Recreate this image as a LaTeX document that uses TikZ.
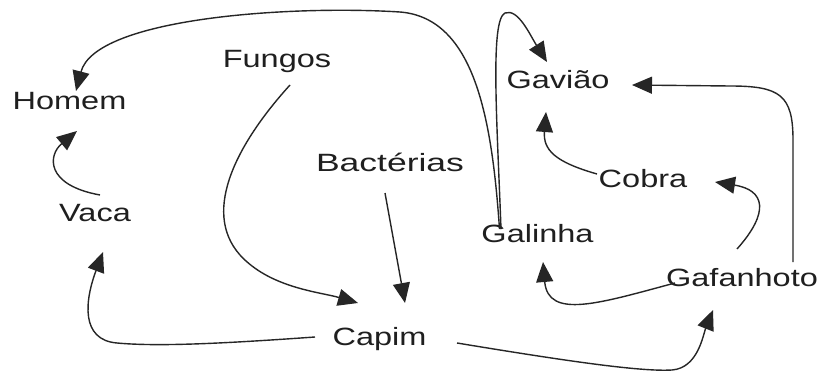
\documentclass[tikz,border=0pt]{standalone}
\usepackage{fontspec}
\usepackage{graphicx}
\setmainfont{Liberation Sans}
\usetikzlibrary{arrows.meta}
\newcommand{\wtxt}[1]{\scalebox{1.3}[1]{#1}}
\begin{document}
\begin{tikzpicture}[x=1pt,y=-1pt,
  lbl/.style={inner sep=0pt,anchor=base,text=black!88,font=\fontsize{25}{30}\selectfont},
  conn/.style={line width=1.4pt,draw=black!85,-{Triangle[length=20pt,width=17pt]}}]
\useasboundingbox[fill=white] (0,0) rectangle (827,374);
\node[lbl] (homem) at (69.5,110) {\wtxt{Homem}};
\node[lbl] (fungos) at (277,68) {\wtxt{Fungos}};
\node[lbl] (bact) at (390,172) {\scalebox{1.42}[1]{Bactérias}};
\node[lbl] (vaca) at (95,222) {\wtxt{Vaca}};
\node[lbl] (capim) at (379.5,345) {\wtxt{Capim}};
\node[lbl] (gaviao) at (558,89) {\wtxt{Gavião}};
\node[lbl] (cobra) at (643,188) {\wtxt{Cobra}};
\node[lbl] (galinha) at (537.5,243) {\wtxt{Galinha}};
\node[lbl] (gafa) at (742,286) {\wtxt{Gafanhoto}};
% Galinha -> Homem
\draw[conn] ([shift={(-38,-14)}]galinha.base) .. controls (492,120) and (475,18) .. (400,12)
  .. controls (290,5) and (95,18) .. ([shift={(6.5,-19)}]homem.base);
% Galinha -> Gaviao
\draw[conn] ([shift={(-36.5,-14)}]galinha.base) .. controls (497,120) and (490,20) .. (505,13)
  .. controls (518,8) and (530,35) .. ([shift={(-11,-27)}]gaviao.base);
% Cobra -> Gaviao
\draw[conn] ([shift={(-46,-14)}]cobra.base) .. controls (555,162) and (543,150) .. ([shift={(-12,23)}]gaviao.base);
% Gafanhoto -> Gaviao
\draw[conn] ([shift={(51,-24)}]gafa.base) -- (793,140) .. controls (793,95) and (780,86) .. (730,86)
  -- ([shift={(74,-4)}]gaviao.base);
% Gafanhoto -> Cobra
\draw[conn] ([shift={(-5,-37)}]gafa.base) .. controls (770,212) and (765,190) .. ([shift={(72,-6)}]cobra.base);
% Gafanhoto -> Galinha
\draw[conn] ([shift={(-67,-3)}]gafa.base) .. controls (600,303) and (548,320) .. ([shift={(5.5,19)}]galinha.base);
% Capim -> Gafanhoto
\draw[conn] ([shift={(77.5,-2)}]capim.base) .. controls (560,360) and (640,372) .. (672,370)
  .. controls (698,368) and (703,335) .. ([shift={(-29,24)}]gafa.base);
% Capim -> Vaca
\draw[conn] ([shift={(-64.5,-8)}]capim.base) .. controls (230,343) and (160,347) .. (117,343)
  .. controls (80,340) and (85,300) .. ([shift={(8,30)}]vaca.base);
% Vaca -> Homem
\draw[conn] ([shift={(5,-27)}]vaca.base) .. controls (45,185) and (48,155) .. ([shift={(7.5,21)}]homem.base);
% Fungos -> Capim
\draw[conn] ([shift={(13,17)}]fungos.base) .. controls (240,140) and (200,210) .. (240,255)
  .. controls (270,288) and (320,292) .. ([shift={(-21.5,-42)}]capim.base);
% Bacterias -> Capim
\draw[conn] ([shift={(-5,21)}]bact.base) -- ([shift={(25.5,-42)}]capim.base);
\end{tikzpicture}
\end{document}
